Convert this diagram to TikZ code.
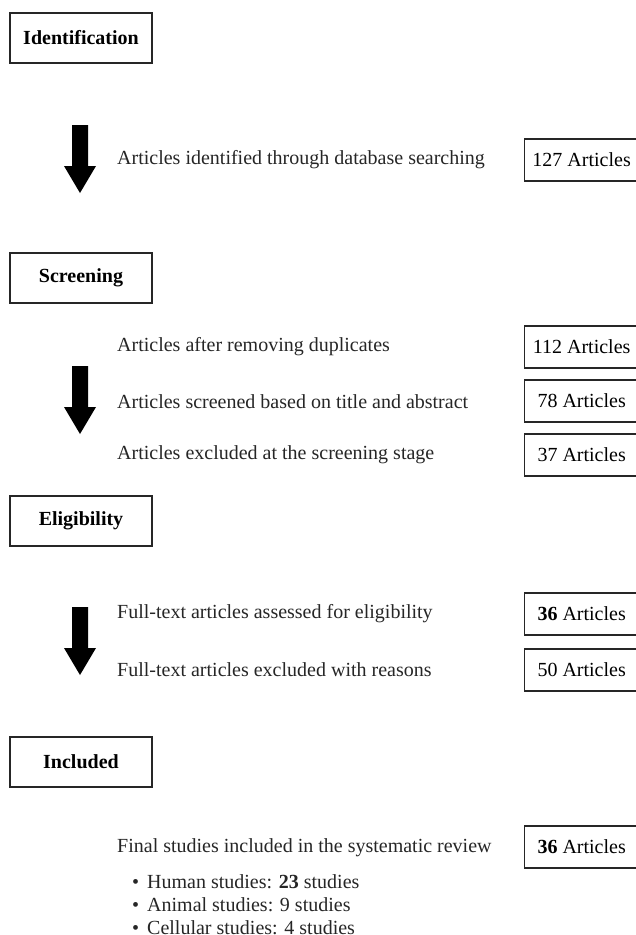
\documentclass[tikz,border=0pt]{standalone}
\usepackage{fontspec}
\setmainfont{Liberation Serif}
\usetikzlibrary{arrows.meta, positioning}
\tikzset{>=stealth}
\tikzstyle{stage} = [rectangle, text centered, minimum width = 142pt, minimum height = 50pt, inner sep = 0pt, draw = black!85, line width = 1.3pt, font = \bfseries\fontsize{20}{23}\selectfont]
\tikzstyle{count} = [rectangle, text centered, anchor = west, minimum width = 114pt, minimum height = 42pt, inner sep = 0pt, draw = black!85, line width = 1.3pt, font = \fontsize{20}{23}\selectfont]
\tikzstyle{step text} = [anchor = west, inner sep = 0pt, text = black!85, font = \fontsize{20}{23}\selectfont]
\tikzset{blockarrow/.pic = {\fill[black] (-8,0) -- (8,0) -- (8,41) -- (16,41) -- (0,68) -- (-16,41) -- (-8,41) -- cycle;}}

\begin{document}
\begin{tikzpicture}[x = 1pt, y = -1pt]
    \clip (0,0) rectangle (636,935);
    \fill[white] (0,0) rectangle (636,935);

    \node (identification) [stage] at (81,38) {Identification};
    \pic (arrowIdent) at (80,125) {blockarrow};
    \node (searched) [step text] at (117,160) {Articles identified through database searching};
    \node (searchedN) [count] at (524,160) {127 Articles};

    \node (screening) [stage] at (81,278) {Screening};
    \pic (arrowScreen) at (80,366) {blockarrow};
    \node (dedup) [step text] at (117,347) {Articles after removing duplicates};
    \node (dedupN) [count] at (524,347) {112 Articles};
    \node (screened) [step text] at (117,402) {Articles screened based on title and abstract};
    \node (screenedN) [count] at (524,401) {78 Articles};
    \node (excluded) [step text] at (117,455) {Articles excluded at the screening stage};
    \node (excludedN) [count] at (524,455) {37 Articles};

    \node (eligibility) [stage] at (81,521) {Eligibility};
    \pic (arrowElig) at (80,607) {blockarrow};
    \node (fulltext) [step text] at (117,614) {Full-text articles assessed for eligibility};
    \node (fulltextN) [count] at (524,614) {\textbf{36} Articles};
    \node (reasons) [step text] at (117,670) {Full-text articles excluded with reasons};
    \node (reasonsN) [count] at (524,670) {50 Articles};

    \node (included) [stage] at (81,762) {Included};
    \node (final) [step text] at (117,848) {Final studies included in the systematic review};
    \node (finalN) [count] at (524,847) {\textbf{36} Articles};
    \node (human) [step text] at (132,882) {\textbullet\hspace{8pt}Human studies: \textbf{23} studies};
    \node (animal) [step text, below = 23pt of human.west, anchor = west] {\textbullet\hspace{8pt}Animal studies: 9 studies};
    \node (cellular) [step text, below = 23pt of animal.west, anchor = west] {\textbullet\hspace{8pt}Cellular studies: 4 studies};
\end{tikzpicture}
\end{document}
